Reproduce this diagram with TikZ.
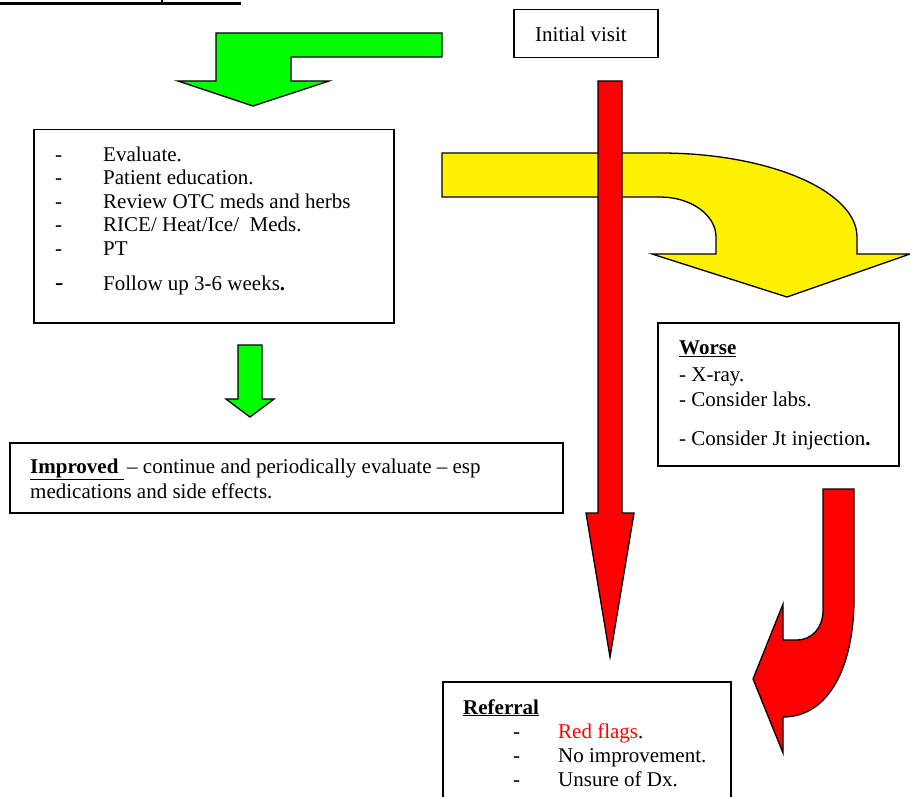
\documentclass[tikz,border=0pt]{standalone}
\usepackage{fontspec}
\setmainfont{Liberation Serif}
\begin{document}
\begin{tikzpicture}[x=1pt,y=-1pt,
  box/.style={draw=black, line width=1.5pt, fill=white, inner sep=0pt, anchor=north west},
  txt/.style={anchor=base west, inner sep=0pt, font=\fontsize{21}{24}\selectfont},
  shapeline/.style={draw=black, line width=1.3pt, line join=miter},
  garrow/.style={shapeline, fill=green},
  yarrow/.style={shapeline, fill=yellow},
  rarrow/.style={shapeline, fill=red}]
\clip (0,0) rectangle (910,797);
\fill[white] (0,0) rectangle (910,797);

% cut-off heading underline
\draw[line width=2.4pt] (0,3.7) -- (241,3.7);
\draw[line width=2.5pt] (162,0) -- (162,3);

% green bent arrow (top)
\draw[garrow] (216,33) -- (442,33) -- (442,57) -- (291,57) -- (291,81) -- (329,81) -- (253,106) -- (178,81) -- (216,81) -- cycle;

% yellow bent arrow
\draw[yarrow] (442,153) -- (660,153) .. controls (769,153) and (857,191) .. (857,237) -- (857,254) -- (910,254) -- (787,297) -- (652,254) -- (716,254) -- (716,237) .. controls (716,215) and (691,197) .. (660,197) -- (442,197) -- cycle;

% red long arrow
\draw[rarrow] (598,81) -- (622,81) -- (622,513) -- (634,513) -- (610,657) -- (586,513) -- (598,513) -- cycle;

% red curved arrow
\draw[rarrow] (823,489) -- (854,489) -- (854,598) .. controls (854,668) and (828,717) .. (783,717) -- (783,753) -- (753,679) -- (783,604) -- (783,640) -- (796,640) .. controls (813,640) and (823,627) .. (823,610) -- cycle;

% small green arrow
\draw[garrow] (238,345) -- (262,345) -- (262,399) -- (274,399) -- (250,417) -- (226,399) -- (238,399) -- cycle;

% Initial visit
\node[box, minimum width=144pt, minimum height=48pt] (init) at (513,9) {};
\node[txt] (inittxt) at (535,42) {Initial visit};

% Evaluate box
\node[box, minimum width=360pt, minimum height=193pt] (evalbox) at (33,129) {};
\node[txt] (d1) at (55,161) {-};
\node[txt] (e1) at (103,161) {Evaluate.};
\node[txt] (d2) at (55,184.5) {-};
\node[txt] (e2) at (103,184.5) {Patient education.};
\node[txt] (d3) at (55,208) {-};
\node[txt] (e3) at (103,208) {Review OTC meds and herbs};
\node[txt] (d4) at (55,231.5) {-};
\node[txt] (e4) at (103,231.5) {RICE/ Heat/Ice/\ \ Meds.};
\node[txt] (d5) at (55,255) {-};
\node[txt] (e5) at (103,255) {PT};
\node[txt, font=\fontsize{25}{28}\selectfont] (d6) at (55,290) {-};
\node[txt] (e6) at (103,290) {Follow up 3-6 weeks\textbf{.}};

% Improved box
\node[box, minimum width=553pt, minimum height=70pt] (impbox) at (9,442) {};
\node[txt] (imp1) at (30,473) {\underline{\textbf{Improved }}\,– continue and periodically evaluate – esp};
\node[txt] (imp2) at (30,498) {medications and side effects.};

% Worse box
\node[box, minimum width=241pt, minimum height=143pt] (worsebox) at (657,322) {};
\node[txt] (w0) at (679,354) {\underline{\textbf{Worse}}};
\node[txt] (w1) at (679,381) {- X-ray.};
\node[txt] (w2) at (679,406) {- Consider labs.};
\node[txt] (w3) at (679,445) {- Consider Jt injection\textbf{.}};

% Referral box
\node[box, minimum width=288pt, minimum height=130pt] (refbox) at (442,681) {};
\node[txt] (r0) at (463,714) {\underline{\textbf{Referral}}};
\node[txt] (rd1) at (513,738) {-};
\node[txt] (r1) at (558,738) {\textcolor{red}{Red flags}.};
\node[txt] (rd2) at (513,762) {-};
\node[txt] (r2) at (558,762) {No improvement.};
\node[txt] (rd3) at (513,786) {-};
\node[txt] (r3) at (558,786) {Unsure of Dx.};
\end{tikzpicture}
\end{document}
